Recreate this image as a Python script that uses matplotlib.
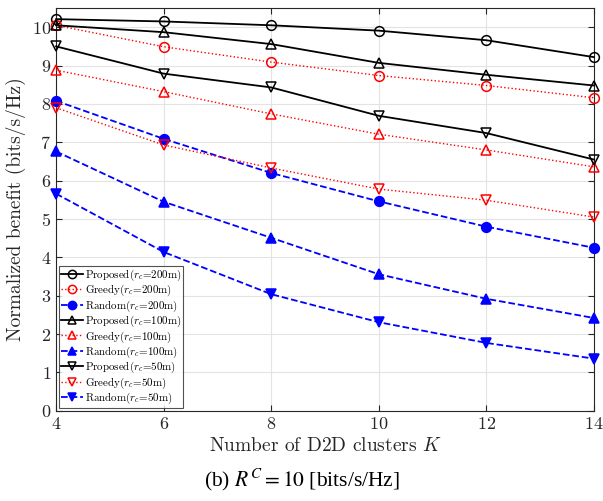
import matplotlib
matplotlib.use("Agg")
import matplotlib.pyplot as plt

plt.rcParams['font.family'] = 'serif'
plt.rcParams['font.serif'] = ['cmr10']
plt.rcParams['mathtext.fontset'] = 'cm'
plt.rcParams['axes.formatter.use_mathtext'] = True

K = [4, 6, 8, 10, 12, 14]
proposed_200 = [10.21, 10.15, 10.05, 9.91, 9.66, 9.22]
greedy_200 = [10.05, 9.49, 9.09, 8.74, 8.48, 8.16]
random_200 = [8.08, 7.09, 6.20, 5.46, 4.80, 4.25]
proposed_100 = [10.05, 9.87, 9.56, 9.07, 8.76, 8.48]
greedy_100 = [8.88, 8.32, 7.74, 7.21, 6.80, 6.36]
random_100 = [6.76, 5.45, 4.51, 3.56, 2.92, 2.42]
proposed_50 = [9.50, 8.79, 8.43, 7.69, 7.24, 6.55]
greedy_50 = [7.90, 6.93, 6.33, 5.78, 5.49, 5.05]
random_50 = [5.66, 4.14, 3.04, 2.31, 1.77, 1.36]

labels = [r'Proposed($r_c$=200m)', r'Greedy($r_c$=200m)', r'Random($r_c$=200m)',
          r'Proposed($r_c$=100m)', r'Greedy($r_c$=100m)', r'Random($r_c$=100m)',
          r'Proposed($r_c$=50m)', r'Greedy($r_c$=50m)', r'Random($r_c$=50m)']

fig = plt.figure(figsize=(6.03, 5.01), dpi=100)
ax = fig.add_axes([0.093, 0.18, 0.892, 0.804])

series = [
    (proposed_200, 'k', '-', 'o', 'none', 1.3),
    (greedy_200, 'r', ':', 'o', 'none', 1.0),
    (random_200, 'b', '--', 'o', 'b', 1.3),
    (proposed_100, 'k', '-', '^', 'none', 1.3),
    (greedy_100, 'r', ':', '^', 'none', 1.0),
    (random_100, 'b', '--', '^', 'b', 1.3),
    (proposed_50, 'k', '-', 'v', 'none', 1.3),
    (greedy_50, 'r', ':', 'v', 'none', 1.0),
    (random_50, 'b', '--', 'v', 'b', 1.3),
]
for (vals, c, ls, m, mfc, lw), lab in zip(series, labels):
    ax.plot(K, vals, color=c, linestyle=ls, marker=m, markerfacecolor=mfc,
            markeredgecolor=c, markersize=7, linewidth=lw, markeredgewidth=1.1,
            label=lab, clip_on=False, zorder=3)

ax.set_xlim(4, 14)
ax.set_ylim(0, 10.5)
ax.set_xticks(K)
ax.set_yticks(range(0, 11))
ax.grid(True, color='#e3e3e3', linewidth=0.8)
ax.set_axisbelow(True)
ax.tick_params(direction='in', top=True, right=True, labelsize=13, colors='#262626',
               length=4)
for s in ax.spines.values():
    s.set_color('#262626')
    s.set_linewidth(0.8)
ax.set_xlabel(r'Number of D2D clusters $K$', fontsize=14, color='#262626')
ax.set_ylabel(r'Normalized benefit (bits/s/Hz)', fontsize=14, color='#262626')

leg = ax.legend(loc='lower left', fontsize=7.9, frameon=True, fancybox=False,
                edgecolor='#262626', borderpad=0.15, labelspacing=0.0,
                handlelength=2.0, handletextpad=0.2, borderaxespad=0.3,
                markerscale=0.85)
leg.get_frame().set_linewidth(0.8)

fig.text(0.5, 0.015, r'(b) $R^C = 10$ [bits/s/Hz]', ha='center', va='bottom',
         fontsize=15.5, family='Liberation Serif', math_fontfamily='stix')

fig.savefig('out.png', dpi=100)
